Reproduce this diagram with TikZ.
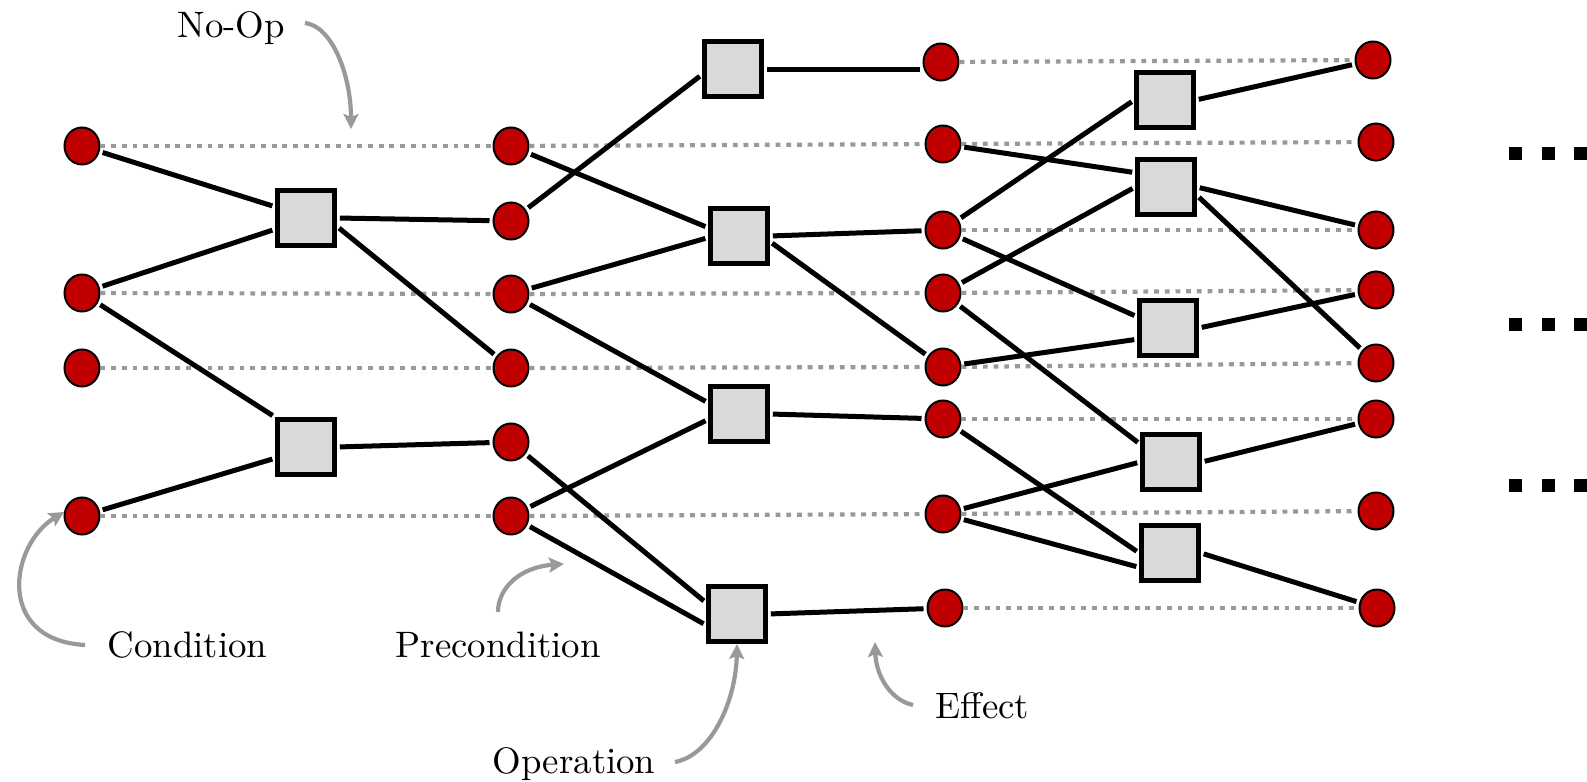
\documentclass[tikz,border=0pt]{standalone}
\usetikzlibrary{arrows.meta,shapes.geometric}
\definecolor{nodered}{RGB}{192,0,0}
\definecolor{opgray}{RGB}{217,217,217}
\definecolor{arrgray}{RGB}{153,153,153}
\begin{document}
\begin{tikzpicture}[x=0.5pt,y=-0.5pt,
  fact/.style={ellipse, draw=black, line width=1pt, fill=nodered, minimum width=17.5pt, minimum height=18.5pt, inner sep=0pt},
  op/.style={rectangle, draw=black, line width=2.3pt, fill=opgray, minimum width=28.5pt, minimum height=27.5pt, inner sep=0pt},
  link/.style={line width=2.5pt, shorten >=1.5pt, shorten <=1.5pt},
  noop/.style={arrgray, line width=2.1pt, dash pattern=on 2.4pt off 2.95pt},
  garrow/.style={arrgray, line width=2.1pt, -{Stealth[length=7.5pt,width=7.5pt,inset=1.5pt]}},
  lbl/.style={font=\fontsize{10}{12}\selectfont, scale=1.84, transform shape, inner sep=0pt, anchor=base west},
  dotmark/.style={fill=black},
]
\useasboundingbox (0,0) rectangle (1587,782);

% column A
\node[fact] (a1) at (82,146) {};
\node[fact] (a2) at (82,293) {};
\node[fact] (a3) at (82,368) {};
\node[fact] (a4) at (82,516) {};
% ops 1
\node[op] (p1) at (306,218) {};
\node[op] (p2) at (306,447) {};
% column B
\node[fact] (b1) at (511,146) {};
\node[fact] (b2) at (511,221) {};
\node[fact] (b3) at (511,294) {};
\node[fact] (b4) at (511,368) {};
\node[fact] (b5) at (511,442) {};
\node[fact] (b6) at (511,516) {};
% ops 2
\node[op] (q1) at (733,69) {};
\node[op] (q2) at (739,236) {};
\node[op] (q3) at (739,414) {};
\node[op] (q4) at (737,614) {};
% column C
\node[fact] (c1) at (941,62) {};
\node[fact] (c2) at (943,144) {};
\node[fact] (c3) at (943,230) {};
\node[fact] (c4) at (943,293) {};
\node[fact] (c5) at (943,367) {};
\node[fact] (c6) at (943,419) {};
\node[fact] (c7) at (943,514) {};
\node[fact] (c8) at (945,608) {};
% ops 3
\node[op] (r1) at (1165,100) {};
\node[op] (r2) at (1166,187) {};
\node[op] (r3) at (1168,328) {};
\node[op] (r4) at (1171,462) {};
\node[op] (r5) at (1170,553) {};
% column D
\node[fact] (d1) at (1373,60) {};
\node[fact] (d2) at (1376,142) {};
\node[fact] (d3) at (1376,230) {};
\node[fact] (d4) at (1376,290) {};
\node[fact] (d5) at (1376,363) {};
\node[fact] (d6) at (1376,419) {};
\node[fact] (d7) at (1376,511) {};
\node[fact] (d8) at (1377,608) {};

% no-op (dotted) links
\foreach \u/\v in {a1/b1,a2/b3,a3/b4,a4/b6,b1/c2,b3/c4,b4/c5,b6/c7,
                   c1/d1,c2/d2,c3/d3,c4/d4,c5/d5,c6/d6,c7/d7,c8/d8}
  \draw[noop] (\u) -- (\v);

% solid links: conditions -> operations
\foreach \u/\v in {a1/p1.160,a2/p1.200,a2/p2.north west,a4/p2.200,
                   b2/q1.190,b1/q2.165,b3/q2.183,b3/q3.160,b6/q3.190,b5/q4.160,b6/q4.200,
                   c3/r1.west,c2/r2.155,c4/r2.west,c3/r3.160,c5/r3.200,
                   c4/r4.150,c7/r4.west,c6/r5.west,c7/r5.205}
  \draw[link] (\u) -- (\v);
% solid links: operations -> effects
\foreach \u/\v in {p1.east/b2,p1.345/b4,p2.east/b5,
                   q2.east/c3,q2.350/c5,q3.east/c6,q4.east/c8,
                   r1.east/d1,r2.east/d3,r2.345/d5,r3.east/d4,r4.east/d6,r5.east/d8}
  \draw[link] (\u) -- (\v);
\draw[link] (q1.east) -- (q1.east -| c1.west);

% ellipsis marks
\foreach \yy in {153,324,485}
  \foreach \xx in {1515.5,1548.5,1580.5}
    \fill[dotmark] (\xx-6.5,\yy-6.5) rectangle (\xx+6.5,\yy+6.5);

% labels
\node[lbl] (lnoop) at (177,37) {No-Op};
\node[lbl] (lcond) at (107,657) {Condition};
\node[lbl] (lpre) at (395,657) {Precondition};
\node[lbl] (lop) at (492,773) {Operation};
\node[lbl] (leff) at (935,718) {Effect};

% annotation arrows
\coordinate (noopS) at (305,23);   \coordinate (noopT) at (351,129);
\coordinate (condS) at (85,645);   \coordinate (condT) at (64,512);
\coordinate (preS) at (498,612);   \coordinate (preT) at (564,564);
\coordinate (opS) at (675,762);    \coordinate (opT) at (737,644);
\coordinate (effS) at (913,705);   \coordinate (effT) at (875,642);

\draw[garrow] (noopS) .. controls (332,26) and (351,75) .. (noopT);
\draw[garrow] (condS) .. controls (-5,640) and (10,545) .. (condT);
\draw[garrow] (preS) .. controls (498,588) and (520,567) .. (preT);
\draw[garrow] (opS) .. controls (712,755) and (736,700) .. (opT);
\draw[garrow] (effS) .. controls (890,700) and (876,675) .. (effT);
\end{tikzpicture}
\end{document}
